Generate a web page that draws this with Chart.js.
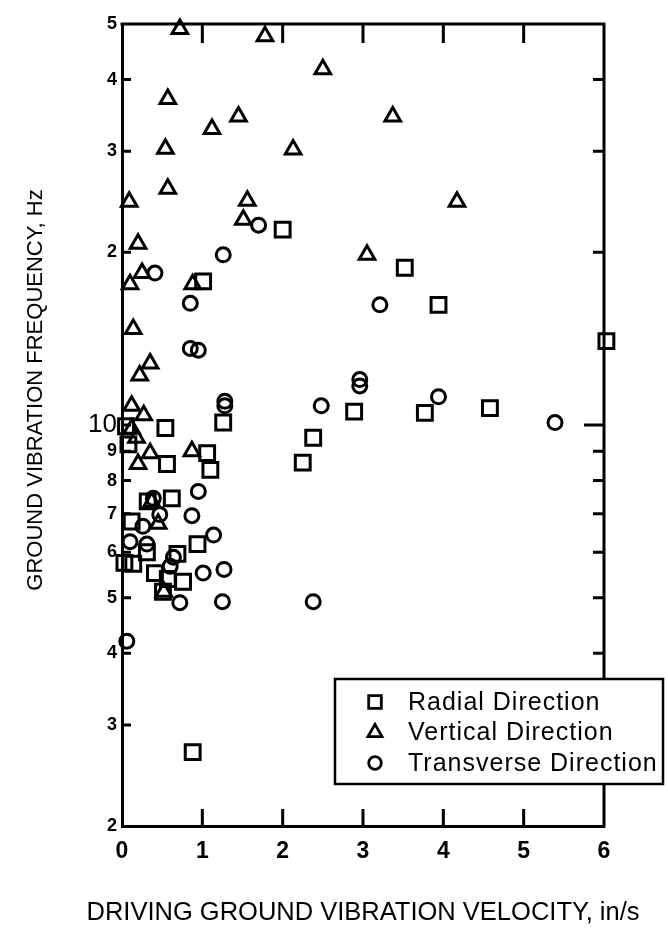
<!DOCTYPE html>
<html><head><meta charset="utf-8">
<script src="https://cdn.jsdelivr.net/npm/chart.js@4.4.0/dist/chart.umd.min.js"></script>
<style>html,body{margin:0;padding:0;background:#fff;}canvas{display:block;}</style>
</head><body>
<canvas id="c" width="668" height="934"></canvas>
<script>
const seriesLabels = ['Radial Direction', 'Vertical Direction', 'Transverse Direction'];
const xTitle = 'DRIVING GROUND VIBRATION VELOCITY, in/s';
const yTitle = 'GROUND VIBRATION FREQUENCY, Hz';

const radialVelocity  = [1.01, 2.0, 3.52, 3.94, 6.03, 3.77, 4.58, 2.89, 1.26, 2.38, 2.25, 1.06, 1.1, 0.94, 0.54, 0.05, 0.08, 0.56, 0.62, 0.32, 0.12, 0.31, 0.14, 0.03, 0.69, 0.41, 0.57, 0.76, 0.51, 0.88];
const radialFrequency = [17.8, 21.9, 18.8, 16.2, 14.0, 10.5, 10.7, 10.55, 10.1, 9.5, 8.6, 8.93, 8.35, 6.2, 9.88, 9.95, 9.25, 8.55, 7.45, 7.36, 6.79, 6.0, 5.73, 5.75, 5.96, 5.52, 5.39, 5.33, 5.12, 2.69];

const verticalVelocity  = [0.72, 1.78, 2.50, 0.57, 1.45, 3.37, 1.12, 0.54, 2.13, 0.57, 0.09, 4.17, 1.56, 1.51, 0.2, 3.05, 0.25, 0.1, 0.88, 0.14, 0.35, 0.22, 0.12, 0.27, 0.12, 0.18, 0.87, 0.35, 0.2, 0.37, 0.45, 0.52];
const verticalFrequency = [49, 47.6, 41.7, 37, 34.5, 34.5, 32.8, 30.3, 30.2, 25.8, 24.5, 24.5, 24.6, 22.8, 20.7, 19.8, 18.4, 17.6, 17.6, 14.7, 12.8, 12.2, 10.8, 10.4, 9.85, 9.5, 9.0, 8.93, 8.55, 7.35, 6.73, 5.12];

const transverseVelocity  = [0.41, 1.70, 1.26, 3.21, 0.85, 0.85, 0.95, 2.96, 2.96, 3.94, 1.28, 1.28, 2.48, 5.39, 0.95, 0.39, 0.47, 0.87, 0.26, 1.14, 0.1, 0.31, 0.64, 0.6, 1.01, 1.27, 0.72, 1.25, 2.38, 0.06];
const transverseFrequency = [18.4, 22.3, 19.8, 16.2, 16.3, 13.6, 13.5, 12.0, 11.7, 11.2, 11.0, 10.8, 10.8, 10.1, 7.66, 7.45, 6.98, 6.95, 6.66, 6.43, 6.26, 6.2, 5.88, 5.67, 5.52, 5.6, 4.9, 4.92, 4.92, 4.2];

const xTickValues = [0, 1, 2, 3, 4, 5, 6];
const yTickValues = [2, 3, 4, 5, 6, 7, 8, 9, 10, 20, 30, 40, 50];
const yTickLabels = ['2', '3', '4', '5', '6', '7', '8', '9', '10', '2', '3', '4', '5'];

const FONT = "'Liberation Sans', Arial, Helvetica, sans-serif";
const toPts = (xs, ys) => xs.map((x, i) => ({x: x, y: ys[i]}));
const yTickFontSmall = {family: FONT, size: 18, weight: 'bold'};
const yTickFontTen = {family: FONT, size: 26, weight: 'normal'};

const frameAndTicks = {
  id: 'frameAndTicks',
  afterDraw(chart) {
    const ctx = chart.ctx, a = chart.chartArea;
    const xs = chart.scales.x, ys = chart.scales.y;
    ctx.save();
    ctx.strokeStyle = '#000';
    ctx.lineWidth = 3;
    ctx.lineCap = 'square';
    ctx.beginPath();
    ctx.moveTo(a.left, a.top); ctx.lineTo(a.right, a.top); ctx.lineTo(a.right, a.bottom);
    ctx.stroke();
    ctx.lineCap = 'butt';
    ctx.beginPath();
    xTickValues.slice(1, -1).forEach(v => {
      const px = xs.getPixelForValue(v);
      ctx.moveTo(px, a.bottom); ctx.lineTo(px, a.bottom - 17);
      ctx.moveTo(px, a.top); ctx.lineTo(px, a.top + 19);
    });
    yTickValues.slice(1, -1).forEach(v => {
      const py = ys.getPixelForValue(v);
      ctx.moveTo(a.left, py); ctx.lineTo(a.left + 9, py);
      ctx.moveTo(a.right, py); ctx.lineTo(a.right - (v === 10 ? 20 : 11), py);
    });
    ctx.stroke();
    ctx.fillStyle = '#000';
    ctx.textAlign = 'center';
    ctx.textBaseline = 'middle';
    ctx.font = '25.5px ' + FONT;
    ctx.fillText(xTitle, (a.left + a.right) / 2, 913);
    ctx.font = '22px ' + FONT;
    ctx.translate(36, 390);
    ctx.rotate(-Math.PI / 2);
    ctx.fillText(yTitle, 0, 0);
    ctx.restore();
  }
};

const legendBox = {
  id: 'legendBox',
  afterDraw(chart) {
    const ctx = chart.ctx, a = chart.chartArea;
    const bx = a.left + 213, by = a.top + 655, bw = 328, bh = 105;
    ctx.save();
    ctx.fillStyle = '#fff';
    ctx.fillRect(bx, by, bw, bh);
    ctx.lineWidth = 2.5;
    ctx.strokeStyle = '#000';
    ctx.strokeRect(bx, by, bw, bh);
    ctx.font = '25px ' + FONT;
    ctx.textAlign = 'left';
    ctx.textBaseline = 'middle';
    try { ctx.letterSpacing = '1px'; } catch (e) {}
    chart.data.datasets.forEach((ds, i) => {
      const y = by + 23 + i * 30.5;
      ctx.fillStyle = 'rgba(0,0,0,0)';
      ctx.strokeStyle = '#000';
      ctx.lineWidth = 2.8;
      Chart.helpers.drawPoint(ctx, {pointStyle: ds.pointStyle, radius: ds.pointRadius * (ds.pointStyle === 'rect' ? 0.85 : 0.9), borderWidth: 2.8, rotation: 0}, bx + 40, y);
      ctx.fillStyle = '#000';
      ctx.fillText(ds.label, bx + 73, y + 1);
    });
    ctx.restore();
  }
};

const baseDs = {borderColor: '#000', backgroundColor: 'rgba(0,0,0,0)', borderWidth: 3, clip: false, showLine: false};

new Chart(document.getElementById('c'), {
  type: 'scatter',
  data: {
    datasets: [
      Object.assign({label: seriesLabels[0], data: toPts(radialVelocity, radialFrequency), pointStyle: 'rect', pointRadius: 10.5}, baseDs),
      Object.assign({label: seriesLabels[1], data: toPts(verticalVelocity, verticalFrequency), pointStyle: 'triangle', pointRadius: 9}, baseDs),
      Object.assign({label: seriesLabels[2], data: toPts(transverseVelocity, transverseFrequency), pointStyle: 'circle', pointRadius: 7}, baseDs)
    ]
  },
  options: {
    responsive: false,
    animation: false,
    events: [],
    layout: {padding: {left: 0, top: 24, right: 64, bottom: 0}},
    plugins: {legend: {display: false}, tooltip: {enabled: false}},
    elements: {point: {hoverRadius: 0}},
    scales: {
      x: {
        type: 'linear', min: 0, max: 6,
        afterFit(s) { s.height = 108; },
        afterBuildTicks(s) { s.ticks = xTickValues.map(v => ({value: v})); },
        grid: {display: false, drawTicks: false},
        border: {display: true, width: 3, color: '#000'},
        ticks: {color: '#000', padding: 12, font: {family: FONT, size: 23, weight: 'bold'}, callback: v => String(v)},
        title: {display: false, text: xTitle}
      },
      y: {
        type: 'logarithmic', min: 2, max: 50,
        afterFit(s) { s.width = 122; },
        afterBuildTicks(s) { s.ticks = yTickValues.map(v => ({value: v})); },
        grid: {display: false, drawTicks: false},
        border: {display: true, width: 3, color: '#000'},
        ticks: {
          color: '#000', padding: 5, autoSkip: false,
          font: (c) => (c.index === 8 ? yTickFontTen : yTickFontSmall),
          callback: (v, i) => yTickLabels[i]
        },
        title: {display: false, text: yTitle}
      }
    }
  },
  plugins: [frameAndTicks, legendBox]
});
</script>
</body></html>
